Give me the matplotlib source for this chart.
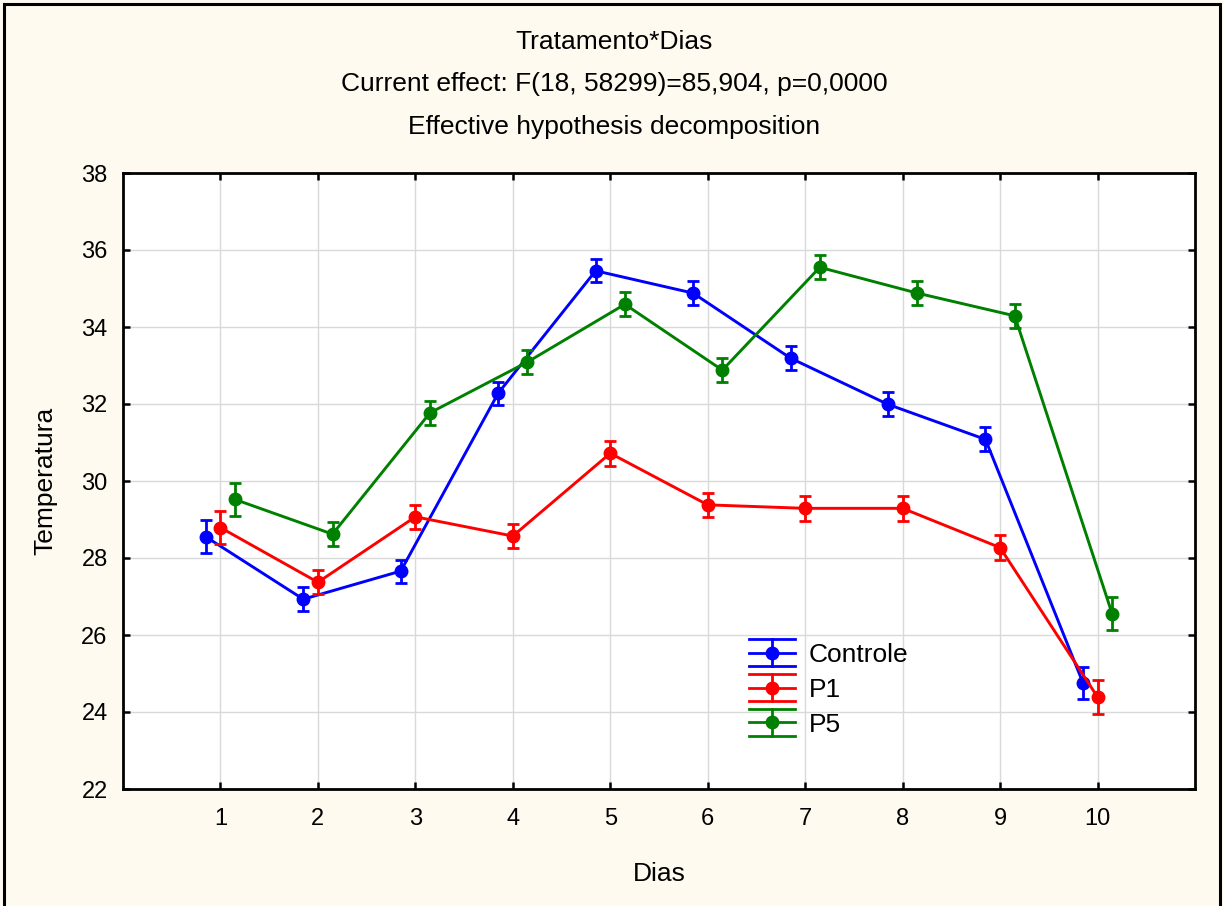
import matplotlib
matplotlib.use("Agg")
import matplotlib.pyplot as plt
from matplotlib.legend_handler import HandlerBase
from matplotlib.lines import Line2D
from matplotlib.patches import Rectangle
import numpy as np

plt.rcParams['font.family'] = ['Liberation Sans', 'DejaVu Sans']

dias = [1, 2, 3, 4, 5, 6, 7, 8, 9, 10]
series_names = ["Controle", "P1", "P5"]
controle = [28.55, 26.93, 27.66, 32.28, 35.46, 34.88, 33.19, 31.99, 31.08, 24.76]
controle_err = [0.43, 0.31, 0.30, 0.30, 0.30, 0.31, 0.31, 0.31, 0.31, 0.42]
p1 = [28.79, 27.37, 29.07, 28.57, 30.72, 29.38, 29.29, 29.29, 28.27, 24.39]
p1_err = [0.43, 0.31, 0.31, 0.32, 0.32, 0.32, 0.32, 0.32, 0.32, 0.43]
p5 = [29.52, 28.62, 31.77, 33.09, 34.59, 32.88, 35.55, 34.88, 34.29, 26.55]
p5_err = [0.43, 0.32, 0.31, 0.31, 0.31, 0.31, 0.31, 0.31, 0.31, 0.43]
colors = ["#0000FF", "#FF0000", "#008000"]
offsets = [-0.15, 0.0, 0.15]

W, H = 1223, 906
fig = plt.figure(figsize=(W / 100, H / 100), dpi=100)
bg = "#FFFAF0"
fig.patch.set_facecolor(bg)
fig.patches.append(Rectangle((4 / W, -0.05), 1216 / W, 1.05 - 4 / H, transform=fig.transFigure,
                             fill=False, edgecolor="black", linewidth=2.2, zorder=0))

ax = fig.add_axes([123 / W, 1 - 789 / H, 1072 / W, 616 / H])
ax.set_facecolor("white")

data = [(controle, controle_err), (p1, p1_err), (p5, p5_err)]
order = [2, 0, 1]
for i in order:
    vals, errs = data[i]
    x = np.array(dias) + offsets[i]
    ax.errorbar(x, vals, yerr=errs, color=colors[i], marker='o', markersize=9,
                linewidth=2.1, elinewidth=2.0, capsize=4, capthick=2.0, zorder=3 + i)

ax.set_xlim(0, 11)
ax.set_ylim(22, 38)
ax.set_xticks(dias)
ax.set_yticks(np.arange(22, 39, 2))
ax.grid(True, color="#D9D9D9", linewidth=1.0)
ax.set_axisbelow(True)
for s in ax.spines.values():
    s.set_linewidth(2.0)
ax.tick_params(direction='in', length=5, width=1.8, top=True, right=True, labelsize=17,
               colors='black')
ax.tick_params(axis='x', pad=14)
ax.tick_params(axis='y', pad=11)

ax.set_xlabel("Dias", fontsize=19, labelpad=23)
ax.set_ylabel("Temperatura", fontsize=19, labelpad=17)

fig.text(0.502, 1 - 42 / H, "Tratamento*Dias", ha='center', va='center', fontsize=19)
fig.text(0.502, 1 - 84 / H, "Current effect: F(18, 58299)=85,904, p=0,0000", ha='center', va='center', fontsize=19)
fig.text(0.502, 1 - 127 / H, "Effective hypothesis decomposition", ha='center', va='center', fontsize=19)


class ErrHandler(HandlerBase):
    def create_artists(self, legend, orig_handle, xdescent, ydescent, width, height, fontsize, trans):
        c = orig_handle[0]
        cy = height / 2 - ydescent
        x0, x1 = -xdescent, -xdescent + width
        xm = (x0 + x1) / 2
        d = 9.7
        arts = []
        for yy in (cy - d, cy, cy + d):
            arts.append(Line2D([x0, x1], [yy, yy], color=c, lw=2.0, transform=trans))
        arts.append(Line2D([xm, xm], [cy - d, cy + d], color=c, lw=2.0, transform=trans))
        arts.append(Line2D([xm], [cy], color=c, marker='o', markersize=9, lw=0, transform=trans))
        return arts


leg_handles = [(colors[i],) for i in range(3)]
leg = ax.legend(leg_handles, series_names, handler_map={tuple: ErrHandler()},
                loc='upper left', bbox_to_anchor=(749 / W, 1 - 643 / H),
                bbox_transform=fig.transFigure, frameon=False, fontsize=19,
                handlelength=1.74, handletextpad=0.53, labelspacing=0.41, borderpad=0,
                borderaxespad=0)

fig.savefig("out.png", dpi=100, facecolor=bg)
